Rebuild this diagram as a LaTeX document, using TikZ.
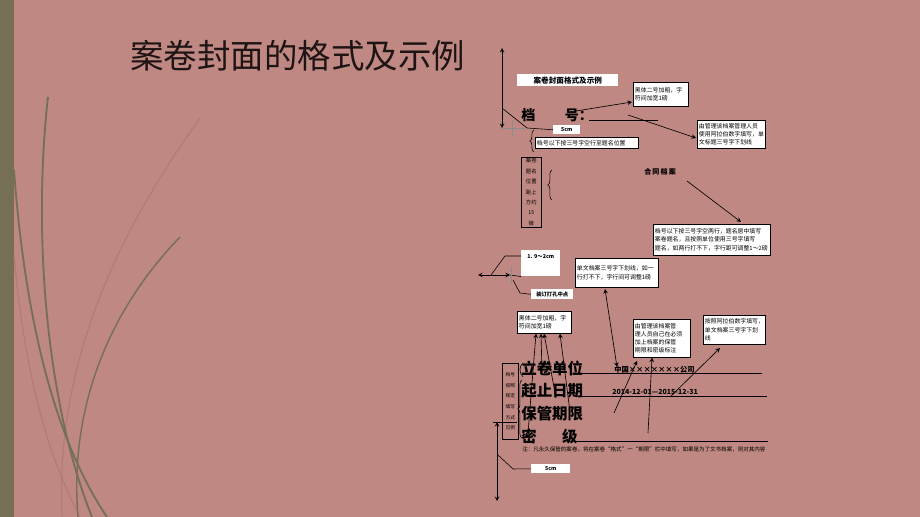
\documentclass[tikz,border=0pt]{standalone}
\usepackage{fontspec}
\setmainfont{Noto Sans CJK SC}
\usetikzlibrary{positioning, arrows.meta, decorations.pathreplacing, calc}
\definecolor{slidebg}{RGB}{191,136,130}
\definecolor{olivebar}{RGB}{117,111,86}
\definecolor{grassfaint}{RGB}{178,124,117}
\definecolor{titleink}{RGB}{30,20,20}

\begin{document}
\begin{tikzpicture}[
        x=0.025cm, y=-0.025cm,
        >=stealth,
        notebox/.style={draw=black, fill=white, line width=0.4pt, inner sep=1.2pt, anchor=north west,
            align=left, font=\fontsize{4.2}{5.8}\selectfont},
        vbox/.style={draw=black, line width=0.4pt, inner sep=0.8pt, anchor=north west,
            align=center, font=\fontsize{3.8}{7.4}\selectfont},
        tag/.style={fill=white, inner sep=1pt, anchor=north west, align=left,
            font=\bfseries\fontsize{3.8}{5}\selectfont},
        field/.style={anchor=west, inner sep=0pt, font=\bfseries\fontsize{11}{13}\selectfont},
        value/.style={anchor=west, inner sep=0pt, font=\bfseries\fontsize{5.2}{6}\selectfont},
        pointer/.style={->, line width=0.45pt},
        leader/.style={line width=0.4pt},
        grass/.style={olivebar, line width=1.3pt},
        brace/.style={decorate, decoration={brace, amplitude=3pt}, line width=0.4pt},
    ]

        % Draw the slide background
        \fill[slidebg] (0,0) rectangle (920,517);
        \fill[olivebar] (0,0) rectangle (14,517);
        \useasboundingbox (0,0) rectangle (920,517);

        % Grass strokes on the left
        \draw[grassfaint, line width=0.8pt] (200,118) .. controls (120,230) and (55,360) .. (62,517);
        \draw[grassfaint, line width=0.8pt] (14,255) .. controls (25,380) and (50,460) .. (80,517);
        \draw[grass] (48,97) .. controls (33,230) and (45,400) .. (92,517);
        \draw[grass] (14,170) .. controls (25,320) and (55,440) .. (107,517);
        \draw[grass, line width=1pt] (180,237) .. controls (100,320) and (70,420) .. (78,517);

        % Title
        \node[anchor=west, inner sep=0pt, text=titleink, font=\fontsize{23.8}{26}\selectfont] (title) at (130,56) {案卷封面的格式及示例};

        % Top part of the cover
        \node[tag, minimum width=2.525cm, minimum height=0.3cm, font=\bfseries\fontsize{5.4}{6}\selectfont] (cover-title) at (517,74) {案卷封面格式及示例};
        \node[anchor=west, inner sep=0pt, font=\bfseries\fontsize{10}{12}\selectfont] (dang-hao) at (521,115) {档\hspace{21pt}号：};
        \coordinate (hao-line-l) at (589,120);
        \coordinate (hao-line-r) at (658,120);
        \draw[leader] (hao-line-l) -- (hao-line-r);

        \node[notebox, text width=1.29cm, minimum height=0.6cm] (hei-top) at (633,82) {黑体二号加粗，字\\符间加宽1磅};
        \node[notebox, text width=1.62cm, minimum height=0.7cm] (fill-top) at (697,120) {由管理该档案管理人员\\使用阿拉伯数字填写，单\\文标题三号字下划线};
        \coordinate (hao-tip) at (576,111);
        \coordinate (hei-top-in) at (632,102);
        \draw[pointer] (hao-tip) -- (hei-top-in);
        \coordinate (num-tip) at (628,115);
        \coordinate (fill-top-in) at (696,138);
        \draw[pointer] (num-tip) -- (fill-top-in);

        % Top margin of 5cm
        \coordinate (top-up) at (502,48);
        \coordinate (top-dn) at (502,128);
        \draw[<->, line width=0.45pt] (top-up) -- (top-dn);
        \draw[black!45, line width=0.5pt] (502,128) -- (525,128) (512,120) -- (512,137);
        \node[tag, minimum width=0.675cm, minimum height=0.225cm] (five-top) at (553,125) {5cm};
        \coordinate (top-knee) at (527,128);
        \draw[leader] (502,108) -- (top-knee) -- (five-top.west);
        \draw[brace] (534,152) -- (534,130);
        \node[notebox, text width=2.48cm, minimum height=0.275cm] (gap-note) at (535,137) {档号以下按三号字空行至题名位置};

        % Title block
        \node[vbox, minimum width=0.5cm, minimum height=1.55cm] (name-note) at (521,157) {案卷\\题名\\位置\\距上\\方约\\15\\磅};
        \draw[brace] (552,200) -- (552,170);
        \node[anchor=west, inner sep=0pt, font=\bfseries\fontsize{5}{6}\selectfont] (hetong) at (644,172) {合\,同\,档\,案};
        \coordinate (hetong-tail) at (687,181);
        \coordinate (title-note-in) at (741,222);
        \draw[pointer] (hetong-tail) -- (title-note-in);
        \node[notebox, text width=2.84cm, minimum height=0.775cm] (title-note) at (653,224) {档号以下按三号字空两行，题名居中填写\\案卷题名，且按照单位使用三号字填写\\题名，如两行打不下，字行距可调整1～2磅};

        % Binding margin
        \node[tag, minimum width=0.975cm, minimum height=0.65cm, align=left, anchor=north west, text depth=10pt] (bind-gap) at (521,250) {1. 9～2cm};
        \coordinate (gap-l) at (478,275);
        \coordinate (gap-tick) at (510,275);
        \draw[<->, line width=0.45pt] (gap-l) -- (gap-tick);
        \draw[leader] (gap-tick) -- (bind-gap.south west);
        \draw[black!45, line width=0.5pt] (511,267) -- (511,284);
        \draw[leader] (491,275) -- (505,256) -- (521,256);
        \node[tag, minimum width=1.05cm, minimum height=0.25cm] (hole-mid) at (531,289) {装订打孔中点};
        \draw[leader] (513,280) -- (520,293) -- (hole-mid.west);
        \node[notebox, text width=1.99cm, minimum height=0.725cm] (unit-note) at (575,258) {单文档案三号字下划线，如一\\行打不下，字行间可调整1磅};

        % Notes above the fields
        \node[notebox, text width=1.27cm, minimum height=0.55cm] (hei-low) at (517,311) {黑体二号加粗，字\\符间加宽1磅};
        \node[notebox, text width=1.34cm, minimum height=0.95cm] (keep-note) at (633,319) {由管理该档案管\\理人员自己在必须\\加上档案的保管\\期限和密级标注};
        \node[notebox, text width=1.47cm, minimum height=0.725cm] (date-note) at (703,315) {按照阿拉伯数字填写，\\单文档案三号字下划\\线};

        % Fields of the cover
        \node[field] (lijuan) at (521,368) {立卷单位};
        \node[field] (qizhi) at (521,391) {起止日期};
        \node[field] (baoguan) at (521,414) {保管期限};
        \node[field] (miji) at (521,437) {密\hspace{18pt}级};
        \coordinate (lijuan-end) at (762,373);
        \coordinate (qizhi-end) at (767,396);
        \coordinate (miji-end) at (768,441);
        \draw[leader] (575,373) -- (lijuan-end);
        \draw[leader] (575,396) -- (qizhi-end);
        \draw[leader] (577,441) -- (miji-end);
        \node[value] (unit-val) at (614,370) {中国×××××××公司};
        \node[value, font=\bfseries\fontsize{5}{6}\selectfont] (date-val) at (612,392) {2014-12-01—2015-12-31};

        % Left label box with brace
        \node[vbox, minimum width=0.4cm, minimum height=1.9cm, font=\fontsize{3.4}{7.6}\selectfont] (code-note) at (502,363) {档号\\按照\\规定\\填写\\方式\\见例};
        \draw[brace] (522,438) -- (522,380);
        \draw[leader] (523,377) .. controls (519,373) and (519,366) .. (523,363);

        % Pointers from the fields up to the notes
        \draw[pointer] (528,433) -- (hei-low.south west -| 536,0);
        \draw[pointer] (542,372) -- (hei-low.south west -| 541,0);
        \draw[pointer] (556,398) -- (hei-low.south west -| 544,0);
        \draw[pointer] (570,412) -- (hei-low.south west -| 560,0);
        \coordinate (unit-tip) at (617,367);
        \coordinate (unit-note-in) at (605,289);
        \draw[<->, line width=0.45pt] (unit-tip) -- (unit-note-in);
        \coordinate (keep-a) at (614,413);
        \coordinate (keep-b) at (648,433);
        \draw[pointer] (keep-a) -- (637,361);
        \draw[pointer] (keep-b) -- (keep-note.south west -| 652,0);
        \coordinate (date-tail) at (670,397);
        \draw[pointer] (date-tail) -- (720,348);

        % Footnote
        \node[anchor=west, inner sep=0pt, font=\fontsize{3.93}{5}\selectfont] (footnote) at (522,449) {注：凡永久保管的案卷，将在案卷“格式”一“期限”栏中填写，如果是为了文书档案，则对其内容};

        % Bottom margin of 5cm
        \coordinate (bot-up) at (497,422);
        \coordinate (bot-dn) at (497,501);
        \draw[<->, line width=0.45pt] (bot-up) -- (bot-dn);
        \draw[leader] (493,422) -- (517,422);
        \node[tag, minimum width=0.975cm, minimum height=0.225cm] (five-bot) at (531,464) {5cm};
        \draw[leader] (498,455) -- (513,469) -- (five-bot.west);
    \end{tikzpicture}
\end{document}
